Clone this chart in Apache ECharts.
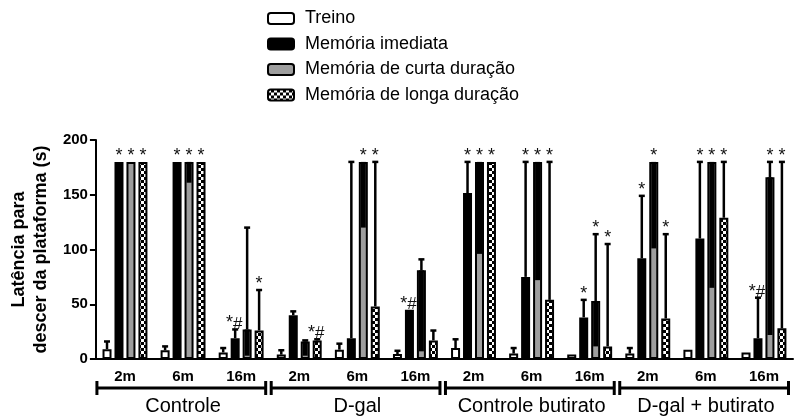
<!DOCTYPE html>
<html>
<head>
<meta charset="utf-8">
<script src="https://cdn.jsdelivr.net/npm/echarts@6/dist/echarts.min.js"></script>
<style>
html,body{margin:0;padding:0;background:#fff;}
#chart{width:801px;height:416px;}
</style>
</head>
<body>
<div id="chart"></div>
<script>
// ---- data ----
const groups = ['Controle', 'D-gal', 'Controle butirato', 'D-gal + butirato'];
const subLabels = ['2m', '6m', '16m', '2m', '6m', '16m', '2m', '6m', '16m', '2m', '6m', '16m'];
const seriesNames = ['Treino', 'Memória imediata', 'Memória de curta duração', 'Memória de longa duração'];
const yTicks = [0, 50, 100, 150, 200];

const treino      = [9, 8, 6, 4, 8.5, 4.5, 10, 5, 4, 5, 8.5, 6];
const treinoUp    = [16, 11.5, 10, 8, 14, 7.5, 18, 10, 4, 10, 8.5, 6];

const imediata    = [180, 180, 19, 40, 19, 45, 151.5, 75, 38, 92, 110, 19];
const imediataUp  = [180, 180, 27, 43.5, 180, 45, 180, 180, 54, 149, 180, 56];

const curta       = [180, 180, 27, 16, 180, 81, 180, 180, 53, 180, 180, 166];
const curtaUp     = [180, 180, 120, 17, 180, 91, 180, 180, 114, 180, 180, 180];
const curtaLow    = [180, 161, 3, 3, 120, 7, 96, 72, 11.5, 101, 65, 22];

const longa       = [180, 180, 26, 17, 48, 17, 180, 54, 11.5, 37, 129, 28];
const longaUp     = [180, 180, 63, 18, 180, 26, 180, 180, 105, 114, 180, 180];

const annTreino   = ['', '', '', '', '', '', '', '', '', '', '', ''];
const annImediata = ['*', '*', '*#', '', '', '*#', '*', '*', '*', '*', '*', '*#'];
const annCurta    = ['*', '*', '', '', '*', '', '*', '*', '*', '*', '*', '*'];
const annLonga    = ['*', '*', '*', '*#', '*', '', '*', '*', '*', '*', '*', '*'];

// ---- styling helpers ----
const FONT = 'Liberation Sans, Arial, Helvetica, sans-serif';
const BAR_W = 9;
const GAP = 0.33;
const PITCH = BAR_W * (1 + GAP);

function checker() {
  const c = document.createElement('canvas');
  c.width = 6; c.height = 6;
  const g = c.getContext('2d');
  g.fillStyle = '#000'; g.fillRect(0, 0, 6, 6);
  g.fillStyle = '#fff';
  g.fillRect(0, 0, 3, 3);
  g.fillRect(3, 3, 3, 3);
  return c;
}
const checkerPattern = { image: checker(), repeat: 'repeat' };
const fills = ['#ffffff', '#000000', '#9e9e9e', checkerPattern];

const means = [treino, imediata, curta, longa];
const ups = [treinoUp, imediataUp, curtaUp, longaUp];
const lows = [treino, imediata, curtaLow, longa];
const anns = [annTreino, annImediata, annCurta, annLonga];

// error bar data rows: [category, seriesIdx, mean, upper, lower]
const errData = [];
const errAnn = [];
for (let s = 0; s < 4; s++) {
  for (let i = 0; i < subLabels.length; i++) {
    errData.push([i, s, means[s][i], ups[s][i], lows[s][i]]);
    errAnn.push(anns[s][i]);
  }
}

const chart = echarts.init(document.getElementById('chart'));

const barSeries = seriesNames.map((name, s) => ({
  name: name,
  type: 'bar',
  data: means[s],
  barWidth: BAR_W,
  barGap: (GAP * 100) + '%',
  itemStyle: { color: fills[s], borderColor: '#000', borderWidth: 2 },
  z: 2
}));

const errSeries = {
  type: 'custom',
  z: 5,
  clip: false,
  silent: true,
  encode: { x: 0, y: 2 },
  data: errData,
  renderItem: function (params, api) {
    const cat = api.value(0), s = api.value(1), mean = api.value(2), up = api.value(3), lo = api.value(4);
    const base = api.coord([cat, mean]);
    const x = base[0] + (s - 1.5) * PITCH;
    const yMean = base[1];
    const children = [];
    let topY = yMean;
    if (up > mean) {
      const yu = api.coord([cat, up])[1];
      topY = yu;
      children.push({ type: 'line', shape: { x1: x, y1: yMean, x2: x, y2: yu }, style: { stroke: '#000', lineWidth: 2.5 } });
      children.push({ type: 'line', shape: { x1: x - 3, y1: yu, x2: x + 3, y2: yu }, style: { stroke: '#000', lineWidth: 2.5 } });
    }
    if (lo < mean) {
      const yl = api.coord([cat, lo])[1];
      children.push({ type: 'line', shape: { x1: x, y1: yMean, x2: x, y2: yl }, style: { stroke: '#000', lineWidth: 5 } });
    }
    const a = errAnn[params.dataIndex];
    if (a) {
      const txt = a === '*#' ? '{s|*}{h|#}' : '{s|*}';
      children.push({
        type: 'text',
        x: x + (a === '*#' ? -1 : 0),
        y: topY + 3,
        style: {
          text: txt,
          align: 'center',
          verticalAlign: 'bottom',
          fill: '#111',
          rich: {
            s: { fontSize: 18, fontFamily: FONT, fill: '#111', verticalAlign: 'bottom' },
            h: { fontSize: 17, fontFamily: FONT, fill: '#111', verticalAlign: 'bottom' }
          }
        }
      });
    }
    return { type: 'group', children: children };
  }
};

const bracketSeries = {
  type: 'custom',
  z: 5,
  clip: false,
  silent: true,
  encode: { x: 0, y: 1 },
  data: groups.map((g, i) => [i * 3, 0]),
  renderItem: function (params, api) {
    const first = api.value(0);
    const half = api.size([1, 0])[0] / 2;
    const p0 = api.coord([first, 0]);
    const p2 = api.coord([first + 2, 0]);
    const xs = p0[0] - half + 1;
    const xe = p2[0] + half - 4.5;
    const y = p0[1] + 29;
    const st = { stroke: '#000', lineWidth: 3 };
    return {
      type: 'group',
      children: [
        { type: 'line', shape: { x1: xs, y1: y, x2: xe, y2: y }, style: st },
        { type: 'line', shape: { x1: xs, y1: y - 7, x2: xs, y2: y + 7 }, style: st },
        { type: 'line', shape: { x1: xe, y1: y - 7, x2: xe, y2: y + 7 }, style: st },
        {
          type: 'text', x: (p0[0] + p2[0]) / 2, y: y + 18,
          style: { text: groups[params.dataIndex], align: 'center', verticalAlign: 'middle', fontSize: 20, fontFamily: FONT, fill: '#000' }
        }
      ]
    };
  }
};

chart.setOption({
  animation: false,
  backgroundColor: '#fff',
  textStyle: { fontFamily: FONT },
  grid: { left: 86, right: 8, top: 140, bottom: 57, containLabel: false },
  legend: {
    data: seriesNames,
    orient: 'vertical',
    left: 267,
    top: 9.5,
    padding: 0,
    itemWidth: 26,
    itemHeight: 11,
    itemGap: 7.5,
    selectedMode: false,
    textStyle: { fontSize: 18, color: '#000', fontFamily: FONT, padding: [0, 0, 0, 6] }
  },
  xAxis: {
    type: 'category',
    data: subLabels,
    axisLine: { lineStyle: { color: '#000', width: 2 } },
    axisTick: { alignWithLabel: true, interval: 0, length: 6, lineStyle: { color: '#000', width: 2 } },
    axisLabel: { interval: 0, margin: 10, fontSize: 15, fontWeight: 'bold', color: '#000', fontFamily: FONT },
    splitLine: { show: false }
  },
  yAxis: {
    type: 'value',
    min: yTicks[0],
    max: yTicks[yTicks.length - 1],
    interval: yTicks[1] - yTicks[0],
    name: 'Latência para\ndescer da plataforma (s)',
    nameLocation: 'middle',
    nameGap: 38,
    nameTextStyle: { fontSize: 18, fontWeight: 'bold', color: '#000', lineHeight: 22, fontFamily: FONT },
    axisLine: { show: true, lineStyle: { color: '#000', width: 2 } },
    axisTick: { show: true, length: 6, lineStyle: { color: '#000', width: 2 } },
    axisLabel: { margin: 8, fontSize: 15, fontWeight: 'bold', color: '#000', fontFamily: FONT },
    splitLine: { show: false }
  },
  series: barSeries.concat([errSeries, bracketSeries])
});
</script>
</body>
</html>
